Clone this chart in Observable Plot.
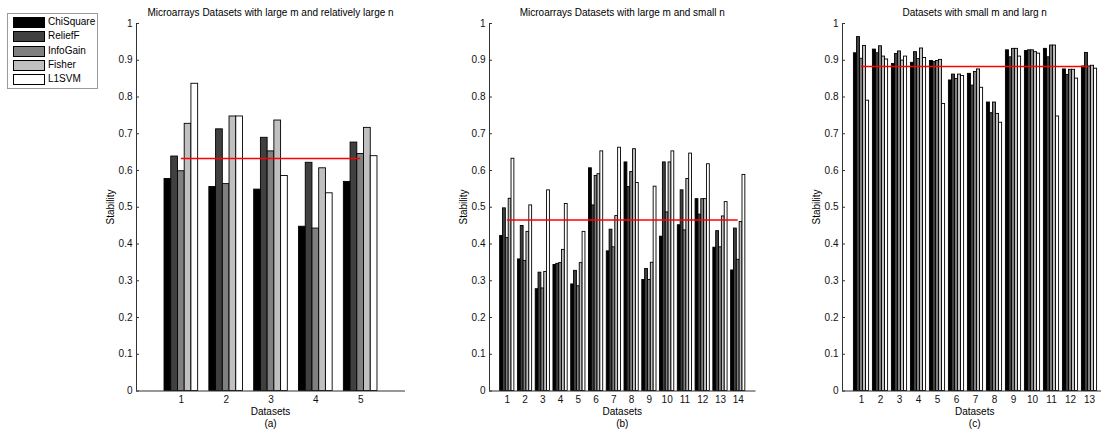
<!DOCTYPE html>
<html><head><meta charset="utf-8">
<script src="https://cdn.jsdelivr.net/npm/d3@7"></script>
<script src="https://cdn.jsdelivr.net/npm/@observablehq/plot@0.6"></script>
<style>
html,body{margin:0;padding:0;background:#fff;overflow:hidden;}
#root{position:relative;width:1101px;height:434px;overflow:hidden;font-family:"Liberation Sans",Arial,sans-serif;}
.t{position:absolute;font-size:10px;line-height:12px;color:#000;white-space:nowrap;transform:translateX(-50%);}
.rot{position:absolute;font-size:10px;line-height:12px;color:#000;white-space:nowrap;transform:translate(-50%,-50%) rotate(-90deg);}
.panel{position:absolute;top:0;}
.panel svg{max-width:none !important;}
#legend{position:absolute;left:7px;top:13px;width:89px;height:74px;border:1px solid #9a9a9a;background:#fff;}
.li{position:absolute;left:5px;height:12px;font-size:10px;line-height:12px;}
.sw{position:absolute;left:0;top:1px;width:30px;height:9px;border:1px solid #000;}
.lt{position:absolute;left:35px;top:0;}
</style></head><body><div id="root"></div>
<script>
// Methods and legend colours
const methods = ["ChiSquare", "ReliefF", "InfoGain", "Fisher", "L1SVM"];
const methodColors = ["#000000", "#404040", "#808080", "#c0c0c0", "#ffffff"];
const yTicks = [0, 0.1, 0.2, 0.3, 0.4, 0.5, 0.6, 0.7, 0.8, 0.9, 1];

// Panel (a): Microarrays Datasets with large m and relatively large n
const chiSquareA = [0.577, 0.555, 0.548, 0.447, 0.569];
const reliefFA   = [0.638, 0.712, 0.689, 0.621, 0.676];
const infoGainA  = [0.598, 0.563, 0.652, 0.442, 0.645];
const fisherA    = [0.727, 0.747, 0.736, 0.606, 0.716];
const l1svmA     = [0.836, 0.747, 0.585, 0.538, 0.639];

// Panel (b): Microarrays Datasets with large m and small n
const chiSquareB = [0.422, 0.358, 0.277, 0.343, 0.290, 0.606, 0.380, 0.622, 0.302, 0.420, 0.451, 0.522, 0.390, 0.328];
const reliefFB   = [0.497, 0.449, 0.322, 0.346, 0.327, 0.505, 0.439, 0.555, 0.332, 0.622, 0.546, 0.480, 0.435, 0.442];
const infoGainB  = [0.416, 0.354, 0.279, 0.348, 0.285, 0.585, 0.391, 0.596, 0.302, 0.486, 0.437, 0.522, 0.391, 0.357];
const fisherB    = [0.523, 0.433, 0.324, 0.384, 0.348, 0.590, 0.476, 0.658, 0.349, 0.622, 0.577, 0.522, 0.475, 0.460];
const l1svmB     = [0.632, 0.505, 0.546, 0.509, 0.433, 0.652, 0.662, 0.566, 0.556, 0.652, 0.646, 0.617, 0.514, 0.588];

// Panel (c): Datasets with small m and larg n
const chiSquareC = [0.919, 0.929, 0.890, 0.893, 0.898, 0.845, 0.863, 0.785, 0.927, 0.925, 0.931, 0.875, 0.883];
const reliefFC   = [0.963, 0.919, 0.917, 0.922, 0.895, 0.861, 0.831, 0.756, 0.908, 0.927, 0.908, 0.860, 0.920];
const infoGainC  = [0.904, 0.938, 0.924, 0.903, 0.898, 0.849, 0.868, 0.785, 0.931, 0.927, 0.940, 0.874, 0.883];
const fisherC    = [0.939, 0.910, 0.899, 0.932, 0.901, 0.861, 0.875, 0.754, 0.931, 0.922, 0.940, 0.874, 0.885];
const l1svmC     = [0.790, 0.902, 0.910, 0.906, 0.781, 0.857, 0.825, 0.730, 0.910, 0.918, 0.747, 0.850, 0.877];

const titles = ["Microarrays Datasets with large m and relatively large n", "Microarrays Datasets with large m and small n", "Datasets with small m and larg n"];
const captions = ["(a)", "(b)", "(c)"];
const xLabel = "Datasets";
const yLabel = "Stability";

const panels = [
  {series: [chiSquareA, reliefFA, infoGainA, fisherA, l1svmA], left: 136, axisW: 269, gw: 0.75},
  {series: [chiSquareB, reliefFB, infoGainB, fisherB, l1svmB], left: 489, axisW: 266.5, gw: 0.8},
  {series: [chiSquareC, reliefFC, infoGainC, fisherC, l1svmC], left: 841.7, axisW: 266, gw: 0.8}
];

const root = document.getElementById("root");
const H = 434, mTop = 23, mBottom = 43.5, mLeft = 40, mRight = 10;
const axisColor = "#333";

panels.forEach((p, pi) => {
  const n = p.series[0].length;
  const ids = d3.range(1, n + 1);
  const rows = [];
  p.series.forEach((vals, k) => vals.forEach((v, i) => rows.push({dataset: i + 1, k, method: methods[k], value: v})));
  const slot = p.gw / methods.length;
  const avg = d3.mean(rows, d => d.value);
  const W = mLeft + p.axisW + mRight;
  const chart = Plot.plot({
    width: W, height: H,
    marginLeft: mLeft, marginRight: mRight, marginTop: mTop, marginBottom: mBottom,
    style: {fontFamily: '"Liberation Sans", Arial, sans-serif', fontSize: "10px", background: "transparent", overflow: "visible", maxWidth: "none"},
    x: {domain: [0, n + 1]},
    y: {domain: [0, 1]},
    color: {type: "ordinal", domain: methods, range: methodColors},
    marks: [
      Plot.rectY(rows, {
        x1: d => d.dataset - p.gw / 2 + d.k * slot,
        x2: d => d.dataset - p.gw / 2 + (d.k + 1) * slot,
        y: "value", fill: "method", stroke: "#000", strokeWidth: 0.9
      }),
      Plot.ruleX([0], {stroke: axisColor}),
      Plot.ruleY([0], {stroke: axisColor}),
      Plot.axisY({ticks: yTicks, tickFormat: "~g", tickSize: -3, tickPadding: 7, label: null, stroke: axisColor, fill: "#111"}),
      Plot.axisX({ticks: ids, tickFormat: "d", tickSize: 0, tickPadding: 5, label: null, fill: "#111"}),
      Plot.ruleY([{v: avg, from: 1, to: n}], {y: "v", x1: "from", x2: "to", stroke: "#ff0000", strokeWidth: 1.5})
    ]
  });
  chart.style.maxWidth = "none";
  chart.style.width = W + "px";
  chart.style.height = H + "px";
  const wrap = document.createElement("div");
  wrap.className = "panel";
  wrap.style.left = (p.left - mLeft) + "px";
  wrap.style.width = W + "px";
  wrap.style.height = H + "px";
  wrap.appendChild(chart);
  root.appendChild(wrap);

  const cx = p.left + p.axisW / 2;
  const addText = (txt, cls, x, y) => {
    const d = document.createElement("div");
    d.className = cls; d.textContent = txt;
    d.style.left = x + "px"; d.style.top = y + "px";
    root.appendChild(d);
  };
  addText(titles[pi], "t", cx, 7);
  addText(xLabel, "t", cx, 406);
  addText(captions[pi], "t", cx, 418);
  addText(yLabel, "rot", p.left - 25, mTop + (H - mTop - mBottom) / 2);
});

// Legend
const legend = document.createElement("div");
legend.id = "legend";
methods.forEach((m, i) => {
  const item = document.createElement("div");
  item.className = "li";
  item.style.top = (2 + i * 14.3) + "px";
  const sw = document.createElement("div");
  sw.className = "sw"; sw.style.background = methodColors[i];
  const lt = document.createElement("div");
  lt.className = "lt"; lt.textContent = m;
  item.appendChild(sw); item.appendChild(lt);
  legend.appendChild(item);
});
root.appendChild(legend);
</script>
</body></html>
